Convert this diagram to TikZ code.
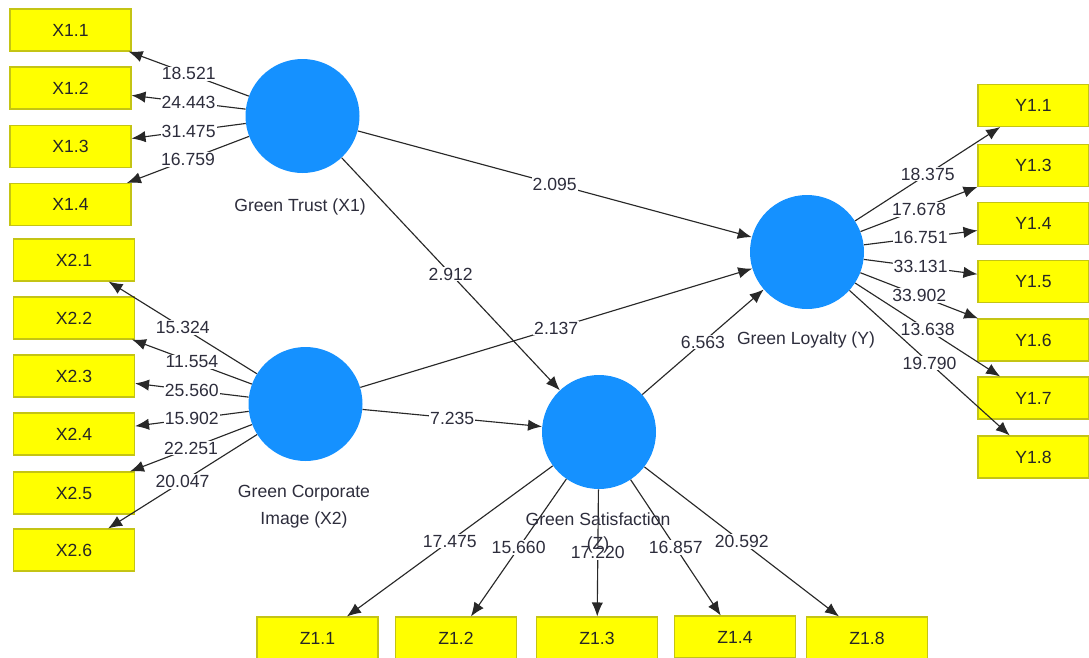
\documentclass[tikz,border=0pt]{standalone}
\usepackage{fontspec}
\setmainfont{Liberation Sans}
\usetikzlibrary{arrows.meta}
\definecolor{lvblue}{RGB}{21,145,255}
\definecolor{boxborder}{RGB}{196,196,20}
\definecolor{ind}{RGB}{255,255,0}
\definecolor{linegray}{RGB}{40,40,40}
\definecolor{txt}{RGB}{45,45,60}
\newcommand{\lblfont}{\fontsize{13.2pt}{16pt}\selectfont}
\tikzset{
  ibox/.style={draw=boxborder, line width=0.8pt, fill=ind, minimum width=90.75pt, minimum height=31.5pt, inner sep=0pt, font=\lblfont, text=black!85},
  ybox/.style={ibox, minimum width=83.25pt},
  lv/.style={circle, fill=lvblue, minimum size=85.5pt, inner sep=0pt},
  conn/.style={draw=linegray, line width=0.85pt, -{Latex[length=10.5pt,width=8.5pt]}},
  val/.style={fill=white, inner sep=0.8pt, text=txt, font=\lblfont},
  lvname/.style={text=txt, font=\lblfont, align=center}
}
\begin{document}
\begin{tikzpicture}[x=0.75pt,y=-0.75pt]
\fill[white] (0,0) rectangle (1089,657);
\clip (0,0) rectangle (1089,657);
% latent variables
\node[lv] (GT) at (302.5,116) {};
\node[lv] (GCI) at (305.5,404) {};
\node[lv] (GS) at (599,432) {};
\node[lv] (GL) at (807,252) {};
% X1 indicators
\node[ibox] (x11) at (70.5,30) {X1.1};
\node[ibox] (x12) at (70.5,88) {X1.2};
\node[ibox] (x13) at (70.5,146.5) {X1.3};
\node[ibox] (x14) at (70.5,204.5) {X1.4};
% X2 indicators
\node[ibox] (x21) at (74,260) {X2.1};
\node[ibox] (x22) at (74,318) {X2.2};
\node[ibox] (x23) at (74,376) {X2.3};
\node[ibox] (x24) at (74,434) {X2.4};
\node[ibox] (x25) at (74,493) {X2.5};
\node[ibox] (x26) at (74,550) {X2.6};
% Y indicators
\node[ybox] (y11) at (1033.5,105.5) {Y1.1};
\node[ybox] (y13) at (1033.5,165.5) {Y1.3};
\node[ybox] (y14) at (1033.5,223.5) {Y1.4};
\node[ybox] (y15) at (1033.5,281.5) {Y1.5};
\node[ybox] (y16) at (1033.5,340) {Y1.6};
\node[ybox] (y17) at (1033.5,398) {Y1.7};
\node[ybox] (y18) at (1033.5,457) {Y1.8};
% Z indicators
\node[ibox] (z11) at (317.5,638) {Z1.1};
\node[ibox] (z12) at (456,638) {Z1.2};
\node[ibox] (z13) at (597,638) {Z1.3};
\node[ibox] (z14) at (735,637) {Z1.4};
\node[ibox] (z18) at (867,638) {Z1.8};
% outer loadings X1
\draw[conn] (GT) -- node[val]{18.521} (x11);
\draw[conn] (GT) -- node[val]{24.443} (x12);
\draw[conn] (GT) -- node[val]{31.475} (x13);
\draw[conn] (GT) -- node[val]{16.759} (x14);
% outer loadings X2
\draw[conn] (GCI) -- node[val]{15.324} (x21);
\draw[conn] (GCI) -- node[val]{11.554} (x22);
\draw[conn] (GCI) -- node[val]{25.560} (x23);
\draw[conn] (GCI) -- node[val]{15.902} (x24);
\draw[conn] (GCI) -- node[val]{22.251} (x25);
\draw[conn] (GCI) -- node[val]{20.047} (x26);
% outer loadings Y
\draw[conn] (GL) -- node[val]{18.375} (y11);
\draw[conn] (GL) -- node[val]{17.678} (y13);
\draw[conn] (GL) -- node[val]{16.751} (y14);
\draw[conn] (GL) -- node[val]{33.131} (y15);
\draw[conn] (GL) -- node[val]{33.902} (y16);
\draw[conn] (GL) -- node[val]{13.638} (y17);
\draw[conn] (GL) -- node[val]{19.790} (y18);
% outer loadings Z
\draw[conn] (GS) -- node[val]{17.475} (z11);
\draw[conn] (GS) -- node[val]{15.660} (z12);
\draw[conn] (GS) -- node[val]{17.220} (z13);
\draw[conn] (GS) -- node[val]{16.857} (z14);
\draw[conn] (GS) -- node[val]{20.592} (z18);
% inner model
\draw[conn] (GT) -- node[val]{2.095} (GL);
\draw[conn] (GT) -- node[val]{2.912} (GS);
\draw[conn] (GCI) -- node[val]{2.137} (GL);
\draw[conn] (GCI) -- node[val]{7.235} (GS);
\draw[conn] (GS) -- node[val]{6.563} (GL);
% latent names
\node[lvname] (nGT) at (300,207) {Green Trust (X1)};
\node[lvname] (nGCI) at (304,507) {Green Corporate\\[4pt]Image (X2)};
\node[lvname] (nGS) at (598,533) {Green Satisfaction\\[2pt](Z)};
\node[lvname] (nGL) at (806,340) {Green Loyalty (Y)};
\end{tikzpicture}
\end{document}
